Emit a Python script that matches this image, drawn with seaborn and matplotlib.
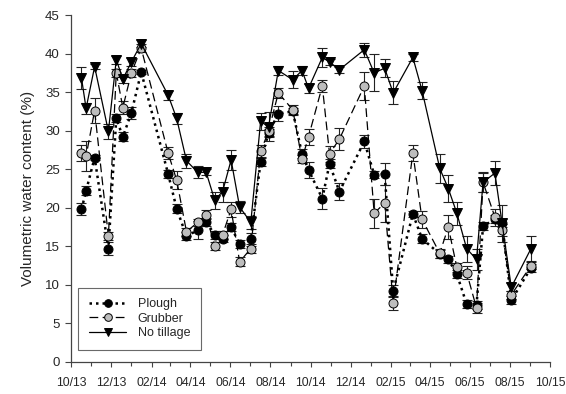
import matplotlib
matplotlib.use("Agg")
import matplotlib.pyplot as plt
import matplotlib.dates as mdates
import numpy as np
import pandas as pd
import seaborn as sns

# Sampling dates
dates = pd.to_datetime([
    "2013-10-17", "2013-10-24", "2013-11-06", "2013-11-27", "2013-12-09",
    "2013-12-19", "2014-01-01", "2014-01-16", "2014-02-26", "2014-03-11",
    "2014-03-26", "2014-04-12", "2014-04-25", "2014-05-08", "2014-05-20",
    "2014-06-02", "2014-06-15", "2014-07-02", "2014-07-17", "2014-07-29",
    "2014-08-13", "2014-09-04", "2014-09-18", "2014-09-28", "2014-10-19",
    "2014-10-30", "2014-11-14", "2014-12-22", "2015-01-06", "2015-01-22",
    "2015-02-04", "2015-03-06", "2015-03-20", "2015-04-16", "2015-04-29",
    "2015-05-12", "2015-05-27", "2015-06-11", "2015-06-21", "2015-07-09",
    "2015-07-20", "2015-08-03", "2015-09-02",
])

# Volumetric water content (%) per tillage treatment
plough = [19.8, 22.2, 26.5, 14.7, 31.6, 29.2, 32.3, 37.6, 24.4, 19.9,
          16.3, 17.1, 18.2, 16.5, 16.0, 17.5, 15.3, 15.9, 26.0, 29.7,
          32.2, 32.5, 27.0, 24.9, 21.2, 25.7, 22.1, 28.6, 24.3, 24.4,
          9.2, 19.2, 16.0, 14.0, 13.3, 11.4, 7.5, 7.4, 17.6, 18.5,
          18.0, 8.0, 12.2]
grubber = [27.1, 26.7, 32.6, 16.3, 37.5, 33.0, 37.5, 40.7, 27.1, 23.6,
           16.9, 18.1, 19.1, 15.0, 16.5, 19.8, 13.0, 14.7, 27.3, 29.9,
           34.9, 32.7, 26.3, 29.2, 35.8, 27.0, 28.9, 35.8, 19.3, 20.6,
           7.7, 27.1, 18.5, 14.1, 17.5, 12.3, 11.6, 7.0, 23.3, 18.8,
           17.1, 8.7, 12.5]
no_tillage = [36.8, 32.9, 38.3, 29.9, 39.2, 36.7, 38.9, 41.3, 34.6, 31.6,
              26.1, 24.6, 24.6, 21.0, 22.1, 26.2, 20.1, 18.1, 31.2, 30.5,
              37.8, 36.6, 37.8, 35.5, 39.5, 38.9, 37.9, 40.5, 37.5, 38.1,
              34.9, 39.5, 35.2, 25.1, 22.5, 19.3, 14.7, 13.3, 23.3, 24.5,
              18.0, 9.7, 14.7]

# Standard errors
plough_se = [0.8, 0.6, 0.3, 0.8, 0.5, 0.6, 0.8, 0.3, 0.5, 0.6,
             0.5, 1.2, 0.5, 0.5, 0.5, 0.5, 0.5, 0.8, 0.6, 0.5,
             1.0, 0.5, 0.6, 1.1, 1.4, 0.6, 1.1, 0.9, 0.5, 1.4,
             0.8, 0.4, 0.6, 0.5, 0.5, 0.5, 0.5, 0.5, 0.5, 0.5,
             0.5, 0.5, 0.5]
grubber_se = [1.0, 1.9, 1.6, 0.5, 0.5, 0.8, 0.5, 0.5, 0.8, 1.2,
              0.5, 0.5, 0.6, 0.5, 0.5, 1.0, 0.6, 0.6, 0.9, 0.6,
              0.6, 0.6, 0.5, 1.0, 0.8, 1.0, 1.4, 1.8, 1.9, 2.4,
              0.9, 1.0, 1.1, 0.6, 1.6, 0.6, 0.8, 0.6, 1.2, 1.1,
              0.8, 0.5, 0.5]
no_tillage_se = [1.4, 0.7, 0.3, 1.0, 0.5, 0.5, 0.5, 0.4, 0.6, 0.7,
                 0.9, 0.8, 0.4, 1.1, 1.3, 1.3, 0.8, 0.8, 1.1, 1.9,
                 0.6, 1.1, 0.6, 0.6, 1.2, 0.4, 0.4, 0.9, 2.4, 1.2,
                 1.5, 0.5, 1.1, 1.9, 1.7, 1.5, 1.7, 1.4, 1.3, 1.6,
                 2.4, 0.5, 1.6]

labels = ["Plough", "Grubber", "No tillage"]

sns.set_style("ticks")
plt.rcParams["font.family"] = ["Liberation Sans", "DejaVu Sans"]
plt.rcParams["font.size"] = 9.5

fig = plt.figure(figsize=(5.66, 3.94), dpi=100)
ax = fig.add_axes([71 / 566, 1 - 362 / 394, (550 - 71) / 566, (362 - 15) / 394])

series = [
    (plough, plough_se, dict(linestyle=(0, (1, 1.6)), linewidth=1.8, marker="o",
                              markerfacecolor="black", markeredgecolor="black")),
    (grubber, grubber_se, dict(linestyle=(0, (7, 3.5)), linewidth=0.9, marker="o",
                                markerfacecolor="#bdbdbd", markeredgecolor="black")),
    (no_tillage, no_tillage_se, dict(linestyle="-", linewidth=0.9, marker="v",
                                      markerfacecolor="black", markeredgecolor="black")),
]

for (vals, se, style), lab in zip(series, labels):
    ax.errorbar(dates, vals, yerr=se, fmt="none", ecolor="#222222",
                elinewidth=0.8, capsize=3.5, capthick=0.8, zorder=2)
    df = pd.DataFrame({"date": dates, "value": vals})
    sns.lineplot(data=df, x="date", y="value", ax=ax, color="black",
                 markersize=6.5, markeredgewidth=0.7, label=lab, zorder=3,
                 errorbar=None, **style)

ax.set_xlim(pd.Timestamp("2013-10-01"), pd.Timestamp("2015-10-01"))
ax.set_ylim(0, 45)
ax.set_yticks(np.arange(0, 46, 5))
ax.xaxis.set_major_locator(mdates.MonthLocator(bymonth=[2, 4, 6, 8, 10, 12]))
ax.xaxis.set_major_formatter(mdates.DateFormatter("%m/%y"))
ax.xaxis.set_minor_locator(mdates.MonthLocator())

ax.set_xlabel("")
ax.set_ylabel("Volumetric water content (%)", fontsize=11, labelpad=7)
ax.tick_params(axis="y", which="major", length=4, width=0.8, pad=4,
               labelsize=9.5, color="#444444", direction="out")
ax.tick_params(axis="x", which="major", length=3.5, width=0.8, pad=7,
               labelsize=8.8, color="#444444", direction="out")
ax.tick_params(axis="x", which="minor", length=3, width=0.8, color="#444444")
for side in ["left", "bottom"]:
    ax.spines[side].set_color("#444444")
    ax.spines[side].set_linewidth(0.9)
sns.despine(ax=ax)

leg = ax.legend(loc="lower left", bbox_to_anchor=(0.015, 0.035), borderaxespad=0,
                frameon=True, fancybox=False, edgecolor="#444444", fontsize=9,
                handlelength=3.0, handletextpad=0.9, borderpad=0.85,
                labelspacing=0.2, markerscale=0.85)
leg.get_frame().set_linewidth(0.8)

fig.savefig("out.png", dpi=100)
